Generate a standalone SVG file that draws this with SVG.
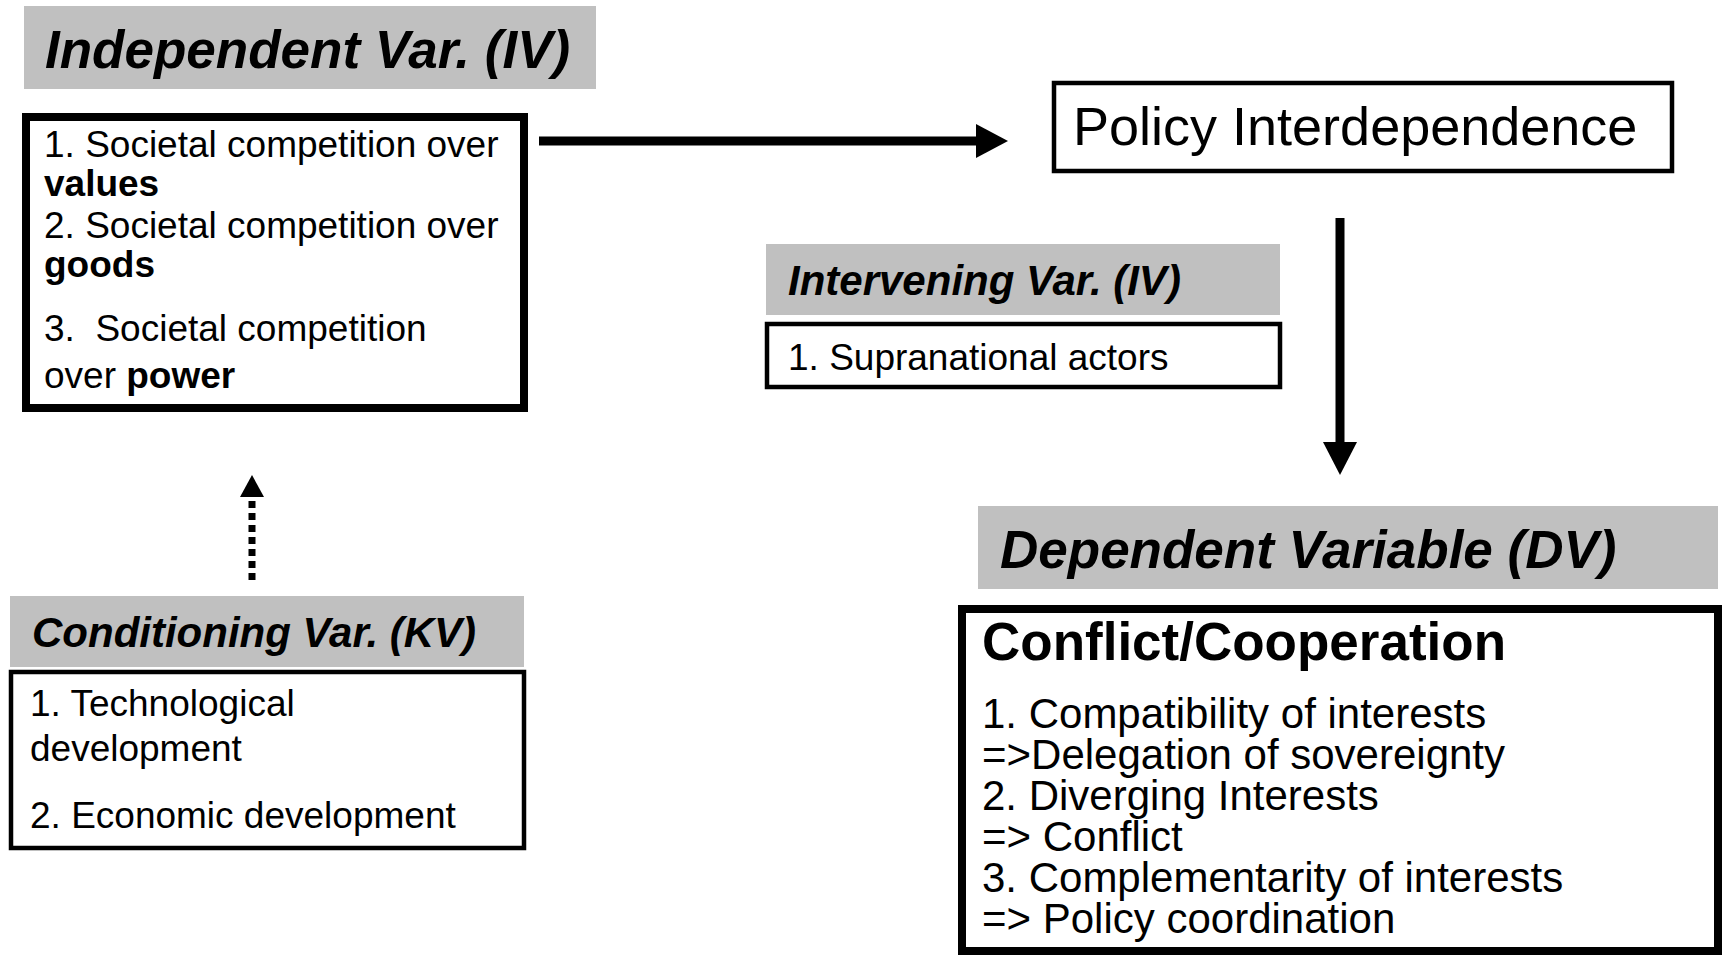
<svg xmlns="http://www.w3.org/2000/svg" width="1725" height="955" viewBox="0 0 1725 955">
<defs>
<style>
.hdr{fill:#c0c0c0}
.t{font-family:"Liberation Sans",Arial,sans-serif;fill:#000;white-space:pre}
.hb{font-weight:bold;font-style:italic}
.box{fill:#fff;stroke:#000}
</style>
</defs>
<rect width="1725" height="955" fill="#fff"/>
<g id="iv-header">
<rect class="hdr" x="24" y="6" width="572" height="83"/>
<text class="t hb" x="45" y="68" font-size="53">Independent Var. (IV)</text>
</g>
<g id="iv-box">
<rect class="box" x="26" y="117" width="498" height="291" stroke-width="8"/>
<text class="t" font-size="37" x="44" y="157">1. Societal competition over</text>
<text class="t" font-size="37" x="44" y="196" font-weight="bold">values</text>
<text class="t" font-size="37" x="44" y="238">2. Societal competition over</text>
<text class="t" font-size="37" x="44" y="277" font-weight="bold">goods</text>
<text class="t" font-size="37" x="44" y="341" xml:space="preserve">3.  Societal competition</text>
<text class="t" font-size="37" x="44" y="388">over <tspan font-weight="bold">power</tspan></text>
</g>
<g id="policy">
<rect class="box" x="1054" y="83" width="618" height="88" stroke-width="4.5"/>
<text class="t" font-size="54" x="1073" y="145">Policy Interdependence</text>
</g>
<g id="intervening-header">
<rect class="hdr" x="766" y="244" width="514" height="71"/>
<text class="t hb" font-size="42" x="788" y="295">Intervening Var. (IV)</text>
</g>
<g id="intervening-box">
<rect class="box" x="767" y="324" width="513" height="63" stroke-width="4.5"/>
<text class="t" font-size="37" x="788" y="370">1. Supranational actors</text>
</g>
<g id="dv-header">
<rect class="hdr" x="978" y="506" width="740" height="83"/>
<text class="t hb" font-size="53" x="1000" y="568">Dependent Variable (DV)</text>
</g>
<g id="dv-box">
<rect class="box" x="962" y="609" width="756" height="342" stroke-width="8"/>
<text class="t" font-size="53" font-weight="bold" x="982" y="660">Conflict/Cooperation</text>
<text class="t" font-size="42" x="982" y="728">1. Compatibility of interests</text>
<text class="t" font-size="42" x="982" y="769">=&gt;Delegation of sovereignty</text>
<text class="t" font-size="42" x="982" y="810">2. Diverging Interests</text>
<text class="t" font-size="42" x="982" y="851">=&gt; Conflict</text>
<text class="t" font-size="42" x="982" y="892">3. Complementarity of interests</text>
<text class="t" font-size="42" x="982" y="933">=&gt; Policy coordination</text>
</g>
<g id="kv-header">
<rect class="hdr" x="10" y="596" width="514" height="71"/>
<text class="t hb" font-size="42" x="32" y="647">Conditioning Var. (KV)</text>
</g>
<g id="kv-box">
<rect class="box" x="11" y="672" width="513" height="176" stroke-width="4.5"/>
<text class="t" font-size="37" x="30" y="716">1. Technological</text>
<text class="t" font-size="37" x="30" y="761">development</text>
<text class="t" font-size="37" x="30" y="828">2. Economic development</text>
</g>
<g id="connectors">
<line x1="539" y1="141" x2="978" y2="141" stroke="#000" stroke-width="9"/>
<path d="M976,124 L1008,141 L976,158 z" fill="#000"/>
<line x1="1340" y1="218" x2="1340" y2="444" stroke="#000" stroke-width="9"/>
<path d="M1323,442 L1357,442 L1340,475 z" fill="#000"/>
<line x1="252" y1="580" x2="252" y2="497" stroke="#000" stroke-width="7" stroke-dasharray="7 5"/>
<path d="M240,497 L264,497 L252,475 z" fill="#000"/>
</g>
</svg>
